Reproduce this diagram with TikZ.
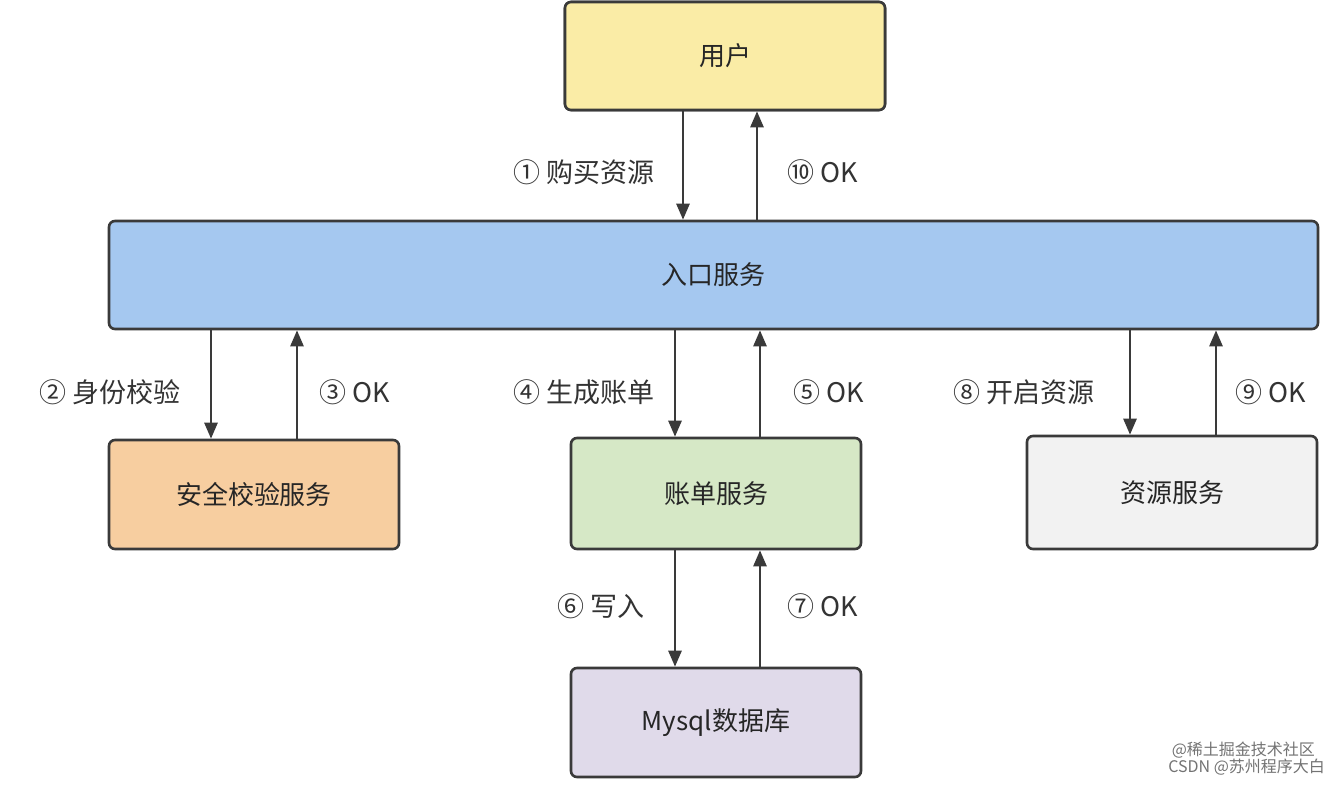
\documentclass[tikz,border=0pt]{standalone}
\usepackage{fontspec}
\setmainfont{Noto Sans CJK SC}
\usetikzlibrary{arrows.meta}
\definecolor{edge}{HTML}{3A3A3A}
\begin{document}
\begin{tikzpicture}[x=0.5pt,y=-0.5pt,
 box/.style={draw=edge,line width=1.3pt,rounded corners=3pt,font=\fontsize{13}{15}\selectfont,text=black!85},
 arr/.style={draw=edge,line width=1.3pt,-{Triangle[length=8pt,width=6.5pt]}},
 lab/.style={font=\fontsize{13.5}{15}\selectfont,text=black!80},
 wm/.style={font=\fontsize{8}{9}\selectfont,text=black!55}]
\useasboundingbox (0,0) rectangle (1340,784);
\fill[white] (0,0) rectangle (1340,784);
\def\bx#1#2#3#4#5#6#7{\node[box,fill=#6,minimum width=(#3-#2)*0.5pt,minimum height=(#5-#4)*0.5pt,inner sep=0pt] (#1) at ({(#2+#3)/2},{(#4+#5)/2}) {#7};}
\bx{user}{565}{885}{2}{110}{yellow!20!orange!20!white!70!yellow}{用户}
\node[box,fill={rgb,255:red,250;green,236;blue,166},minimum width=160pt,minimum height=54pt] (user) at (725,56) {用户};
\node[box,fill={rgb,255:red,165;green,200;blue,240},minimum width=604.5pt,minimum height=54pt] (entry) at (713.5,275) {入口服务};
\node[box,fill={rgb,255:red,247;green,206;blue,160},minimum width=145pt,minimum height=54.5pt] (sec) at (254,494.5) {安全校验服务};
\node[box,fill={rgb,255:red,214;green,232;blue,198},minimum width=145pt,minimum height=55.5pt] (bill) at (716,493.5) {账单服务};
\node[box,fill={rgb,255:red,242;green,242;blue,242},minimum width=145pt,minimum height=56.5pt] (res) at (1172,492.5) {资源服务};
\node[box,fill={rgb,255:red,224;green,218;blue,234},minimum width=145pt,minimum height=54.5pt] (db) at (716,722.5) {Mysql数据库};
% arrows
\draw[arr] (user.south -| 683,0) -- (entry.north -| 683,0);
\draw[arr] (entry.north -| 757,0) -- (user.south -| 757,0);
\draw[arr] (entry.south -| 211,0) -- (sec.north -| 211,0);
\draw[arr] (sec.north -| 297,0) -- (entry.south -| 297,0);
\draw[arr] (entry.south -| 675,0) -- (bill.north -| 675,0);
\draw[arr] (bill.north -| 760,0) -- (entry.south -| 760,0);
\draw[arr] (entry.south -| 1130,0) -- (res.north -| 1130,0);
\draw[arr] (res.north -| 1216,0) -- (entry.south -| 1216,0);
\draw[arr] (bill.south -| 675,0) -- (db.north -| 675,0);
\draw[arr] (db.north -| 760,0) -- (bill.south -| 760,0);
% labels
\node[lab,anchor=east] (l1) at (662,172) {① 购买资源};
\node[lab,anchor=west] (l10) at (780,172) {⑩ OK};
\node[lab,anchor=east] (l2) at (188,392) {② 身份校验};
\node[lab,anchor=west] (l3) at (312,392) {③ OK};
\node[lab,anchor=east] (l4) at (662,392) {④ 生成账单};
\node[lab,anchor=west] (l5) at (786,392) {⑤ OK};
\node[lab,anchor=east] (l8) at (1102,392) {⑧ 开启资源};
\node[lab,anchor=west] (l9) at (1228,392) {⑨ OK};
\node[lab,anchor=east] (l6) at (652,606) {⑥ 写入};
\node[lab,anchor=west] (l7) at (780,606) {⑦ OK};
\node[wm,anchor=east] (w1) at (1322,750) {@稀土掘金技术社区};
\node[wm,anchor=east] (w2) at (1332,767) {CSDN @苏州程序大白};
\end{tikzpicture}
\end{document}
